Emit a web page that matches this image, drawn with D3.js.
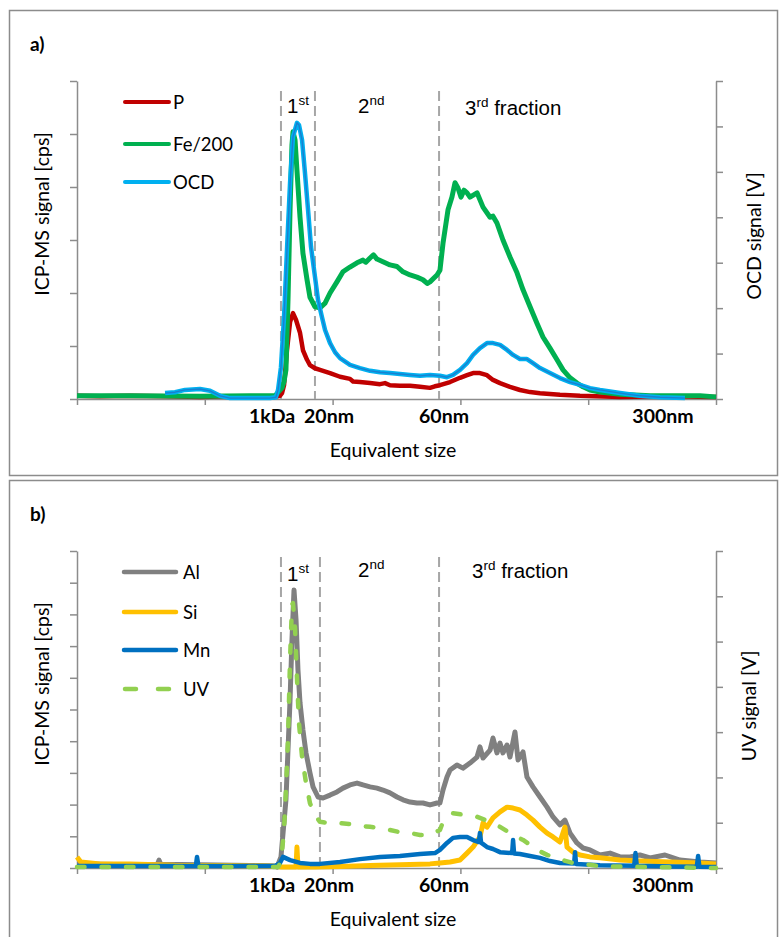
<!DOCTYPE html>
<html><head><meta charset="utf-8">
<script src="https://cdn.jsdelivr.net/npm/d3@7"></script>
<style>body{margin:0;background:#fff}svg{display:block}</style>
</head><body>
<script>
// ---------- DATA ----------
const xTicks = [0, 10, 20, 30, 40, 50];
const xTickLabels = ["1kDa", "20nm", "60nm", "300nm"];
const xTickLabelPos = [15.26, 19.72, 28.72, 45.85];
const fractionBoundsA = [15.96, 18.62, 28.33];
const fractionBoundsB = [15.96, 19.01, 28.33];
const leftTicksA = [0,1,2,3,4,5,6];
const rightTicksA = [0,1,2,3,4,5,6,7];
const leftTicksB = [0,1,2,3,4,5,6,7,8,9,10];
const rightTicksB = [0,1,2,3,4,5,6,7];
const seriesNamesA = ["P", "Fe/200", "OCD"];
const seriesNamesB = ["Al", "Si", "Mn", "UV"];

const pData = [[0,0.06],[1.8,0.05],[4.15,0.06],[6.89,0.05],[9.62,0.04],[11.97,0.05],[13.54,0.04],[15.49,0.04],[15.88,0.06],[16.04,0.11],[16.20,0.26],[16.43,0.92],[16.67,1.45],[16.90,1.62],[17.14,1.49],[17.45,1.25],[17.68,0.92],[18.00,0.74],[18.23,0.64],[18.62,0.58],[19.01,0.55],[19.80,0.49],[20.58,0.42],[21.36,0.38],[21.6,0.33],[22.14,0.32],[22.93,0.30],[23.71,0.28],[24.1,0.30],[24.49,0.26],[25.27,0.25],[26.06,0.25],[26.84,0.23],[27.62,0.21],[28.0,0.24],[28.40,0.26],[29.19,0.32],[29.97,0.40],[30.52,0.45],[30.99,0.49],[31.53,0.49],[32.08,0.45],[32.55,0.36],[33.10,0.30],[33.88,0.23],[34.66,0.17],[35.45,0.13],[36.23,0.11],[37.79,0.08],[39.36,0.06],[42.49,0.04],[46.0,0.05],[50,0.04]];

const feData = [[0,0.06],[4.15,0.06],[9.62,0.05],[13.54,0.06],[15.49,0.06],[16.04,0.21],[16.20,0.33],[16.35,0.55],[16.51,1.87],[16.67,3.57],[16.82,4.79],[16.90,5.04],[17.06,4.89],[17.21,4.32],[17.45,3.43],[17.68,2.75],[18.00,2.25],[18.23,1.92],[18.62,1.74],[19.01,1.72],[19.41,1.81],[19.80,2.00],[20.34,2.21],[20.81,2.40],[21.36,2.49],[21.91,2.57],[22.38,2.62],[22.6,2.58],[22.93,2.66],[23.2,2.72],[23.47,2.64],[23.94,2.59],[24.49,2.53],[25.04,2.50],[25.51,2.40],[26.06,2.34],[26.60,2.30],[27.07,2.25],[27.4,2.18],[27.62,2.21],[28.17,2.34],[28.40,2.43],[28.64,2.94],[29.03,3.57],[29.34,3.81],[29.58,4.08],[29.81,3.98],[30.05,3.81],[30.28,3.94],[30.52,3.89],[30.75,3.81],[31.30,3.89],[31.77,3.62],[32.32,3.43],[32.55,3.45],[32.86,3.32],[33.33,3.00],[33.88,2.68],[34.43,2.38],[34.90,2.06],[35.45,1.74],[35.99,1.43],[36.46,1.17],[37.01,0.96],[37.56,0.74],[38.03,0.55],[38.58,0.40],[39.12,0.30],[39.59,0.23],[40.14,0.17],[40.92,0.13],[42.49,0.09],[44.84,0.06],[48.75,0.06],[50,0.04]];

const ocdData = [[6.89,0.13],[7.67,0.15],[8.45,0.20],[9.62,0.22],[10.41,0.18],[11.19,0.07],[11.97,0.02],[13.54,0.02],[15.10,0.02],[15.57,0.04],[15.73,0.20],[15.96,0.70],[16.20,1.80],[16.43,3.28],[16.67,4.75],[16.90,5.77],[17.21,6.08],[17.37,6.03],[17.61,5.70],[17.84,4.97],[18.08,4.16],[18.31,3.35],[18.62,2.69],[18.86,2.18],[19.17,1.80],[19.41,1.52],[19.80,1.23],[20.19,1.03],[20.58,0.90],[21.36,0.75],[22.14,0.68],[22.93,0.62],[23.71,0.59],[24.49,0.57],[25.27,0.55],[26.06,0.53],[26.84,0.51],[27.62,0.53],[28.40,0.51],[28.95,0.48],[29.42,0.53],[29.97,0.64],[30.52,0.79],[30.99,0.97],[31.53,1.12],[32.08,1.23],[32.55,1.23],[33.10,1.19],[33.65,1.08],[34.12,0.97],[34.66,0.88],[35.21,0.88],[35.68,0.79],[36.23,0.68],[37.01,0.57],[37.79,0.46],[38.58,0.37],[39.36,0.31],[40.14,0.24],[40.92,0.20],[42.49,0.13],[44.05,0.07],[45.62,0.04],[47.57,0.02]];

const alData = [[0,0.15],[1.8,0.12],[4.15,0.10],[6.3,0.12],[6.42,0.25],[6.55,0.12],[9.62,0.10],[13.54,0.08],[15.49,0.06],[15.65,0.03],[15.96,0.35],[16.35,2.15],[16.67,5.30],[16.82,7.19],[16.98,8.77],[17.14,7.82],[17.29,6.25],[17.45,5.21],[17.68,4.35],[17.92,3.63],[18.23,3.00],[18.47,2.56],[18.86,2.24],[19.25,2.21],[19.80,2.30],[20.34,2.40],[20.81,2.52],[21.36,2.62],[21.91,2.68],[22.38,2.62],[22.93,2.56],[23.47,2.52],[23.94,2.46],[24.49,2.37],[25.04,2.24],[25.51,2.15],[26.06,2.08],[26.60,2.05],[27.07,2.05],[27.62,1.99],[28.17,2.05],[28.40,2.05],[28.64,2.46],[28.95,2.87],[29.19,3.09],[29.73,3.25],[30.20,3.15],[30.75,3.31],[31.30,3.50],[31.53,3.82],[31.77,3.47],[32.32,3.72],[32.55,4.10],[32.86,3.63],[33.10,3.94],[33.33,3.63],[33.65,3.88],[33.88,3.50],[34.27,4.29],[34.51,3.41],[34.90,3.66],[35.21,2.87],[35.68,2.56],[36.23,2.24],[36.78,1.92],[37.25,1.61],[37.79,1.36],[38.18,1.51],[38.58,1.10],[39.12,0.79],[39.59,0.63],[40.14,0.57],[40.92,0.41],[41.71,0.47],[42.49,0.35],[43.27,0.35],[44.05,0.41],[44.84,0.32],[46.01,0.41],[47.18,0.25],[48.75,0.19],[50,0.16]];

const siData = [[0,0.35],[0.3,0.19],[1.80,0.13],[4.15,0.13],[7.67,0.09],[11.97,0.08],[15.10,0.06],[16.04,0.03],[17.14,0.03],[17.21,0.66],[17.29,0.03],[18.62,0.03],[20.58,0.05],[22.93,0.08],[25.27,0.10],[27.62,0.13],[28.40,0.16],[29.19,0.19],[29.97,0.25],[30.52,0.47],[30.99,0.66],[31.53,0.98],[31.77,1.42],[32.08,1.29],[32.55,1.58],[33.10,1.77],[33.65,1.92],[34.12,1.89],[34.66,1.83],[35.21,1.67],[35.68,1.51],[36.23,1.29],[36.78,1.10],[37.25,0.98],[37.79,0.82],[38.18,1.29],[38.34,0.66],[38.81,0.50],[39.36,0.41],[40.14,0.35],[40.92,0.32],[42.49,0.25],[44.05,0.22],[46.40,0.19],[48.75,0.16],[50,0.13]];

const mnData = [[0,0.06],[9.3,0.06],[9.39,0.35],[9.5,0.06],[15.49,0.06],[15.88,0.16],[16.12,0.35],[16.67,0.25],[17.45,0.16],[18.23,0.13],[19.01,0.13],[20.58,0.19],[22.14,0.28],[23.71,0.35],[25.27,0.38],[26.84,0.44],[28.01,0.47],[28.40,0.57],[28.95,0.79],[29.42,0.95],[29.97,0.98],[30.52,0.98],[30.99,0.88],[31.45,0.82],[31.53,1.10],[31.62,0.80],[32.08,0.66],[32.55,0.60],[33.10,0.50],[34.05,0.47],[34.12,0.88],[34.2,0.46],[34.66,0.44],[35.45,0.38],[36.23,0.32],[37.01,0.22],[37.79,0.16],[38.90,0.14],[38.97,0.50],[39.05,0.13],[40.92,0.09],[43.6,0.07],[43.70,0.47],[43.8,0.07],[46.5,0.05],[48.5,0.04],[48.60,0.38],[48.7,0.04],[50,0.03]];

const uvData = [[0,0.02],[15.73,0.02],[15.96,0.13],[16.20,0.84],[16.35,1.72],[16.51,2.83],[16.59,3.71],[16.67,4.59],[16.82,5.81],[16.90,5.85],[17.06,5.30],[17.21,4.20],[17.37,3.20],[17.61,2.45],[17.92,1.88],[18.23,1.43],[18.62,1.17],[19.01,1.02],[19.80,0.99],[20.58,0.99],[21.36,0.97],[22.14,0.93],[22.93,0.91],[23.71,0.88],[24.49,0.84],[25.27,0.79],[26.06,0.77],[26.84,0.73],[27.62,0.73],[28.40,0.84],[28.64,1.02],[29.42,1.21],[30.36,1.17],[31.30,1.13],[32.32,1.02],[33.10,0.91],[34.12,0.73],[34.90,0.62],[35.99,0.40],[36.78,0.29],[37.95,0.18],[38.81,0.11],[40.14,0.07],[40.92,0.04],[44.84,0.02],[50,0]];

// ---------- DRAWING ----------
const W = 779, H = 937;
const FONT = "Lato, 'Open Sans', sans-serif";
const ARIAL = "'Liberation Sans', Arial, sans-serif";
const AXC = "#8c8c8c";
const svg = d3.select("body").append("svg").attr("width", W).attr("height", H);

// panel borders
svg.append("rect").attr("x",9.5).attr("y",10.5).attr("width",768).attr("height",465)
  .attr("fill","none").attr("stroke","#8c8c8c").attr("stroke-width",1.5);
svg.append("rect").attr("x",9.5).attr("y",480.5).attr("width",768).attr("height",470)
  .attr("fill","none").attr("stroke","#8c8c8c").attr("stroke-width",1.5);

const x = d3.scaleLinear().domain([0, 50]).range([77, 716]);

function panel(cfg) {
  const g = svg.append("g");
  const yL = d3.scaleLinear().domain([0, cfg.leftMax]).range([cfg.bottom, cfg.top]);
  const yR = d3.scaleLinear().domain([0, cfg.rightMax]).range([cfg.bottom, cfg.top]);

  const ax = g.append("g").attr("transform", `translate(0,${cfg.bottom})`)
    .call(d3.axisBottom(x).tickValues(xTicks).tickFormat("").tickSize(6).tickSizeOuter(0));
  const al = g.append("g").attr("transform", `translate(77,0)`)
    .call(d3.axisLeft(yL).tickValues(cfg.leftTicks).tickFormat("").tickSize(7).tickSizeOuter(0));
  const ar = g.append("g").attr("transform", `translate(716,0)`)
    .call(d3.axisRight(yR).tickValues(cfg.rightTicks).tickFormat("").tickSize(7).tickSizeOuter(0));
  [ax, al, ar].forEach(a => {
    a.selectAll("path,line").attr("stroke", AXC).attr("stroke-width", 1.5);
  });

  g.selectAll(".xl").data(xTickLabels).join("text")
    .attr("x", (d, i) => x(xTickLabelPos[i])).attr("y", cfg.bottom + 24)
    .attr("text-anchor", "middle").attr("font-family", FONT).attr("font-weight", "bold")
    .attr("font-size", 19.5).attr("fill", "#000").text(d => d);

  g.append("text").attr("x", 393).attr("y", cfg.bottom + 58).attr("text-anchor", "middle")
    .attr("font-family", FONT).attr("font-size", 19.5).text("Equivalent size");

  g.append("text").attr("transform", `translate(49,${cfg.leftTitleY}) rotate(-90)`)
    .attr("text-anchor", "middle").attr("font-family", FONT).attr("font-size", 19.5)
    .text("ICP-MS signal [cps]");
  g.append("text").attr("transform", `translate(${cfg.rightTitleX},${cfg.rightTitleY}) rotate(-90)`)
    .attr("text-anchor", "middle").attr("font-family", FONT).attr("font-size", 19.5)
    .text(cfg.rightTitle);

  g.append("text").attr("x", 30).attr("y", cfg.letterY).attr("font-family", FONT)
    .attr("font-weight", "bold").attr("font-size", 19).text(cfg.letter);

  g.selectAll(".fb").data(cfg.bounds).join("line")
    .attr("x1", d => x(d)).attr("x2", d => x(d))
    .attr("y1", cfg.dashTop).attr("y2", cfg.bottom)
    .attr("stroke", "#a6a6a6").attr("stroke-width", 2).attr("stroke-dasharray", "10,5");

  const fl = [
    {x: x(cfg.bounds[0]) + 6, n: "1", s: "st", rest: ""},
    {x: 358, n: "2", s: "nd", rest: ""},
    {x: x(cfg.bounds[2]) + cfg.thirdOff, n: "3", s: "rd", rest: " fraction"}
  ];
  fl.forEach((f, i) => {
    const t = g.append("text").attr("x", f.x).attr("y", cfg.fracY[i])
      .attr("font-family", ARIAL).attr("font-size", 20.5).attr("fill", "#000");
    t.append("tspan").text(f.n);
    t.append("tspan").attr("font-size", 13.5).attr("dy", -8).text(f.s);
    if (f.rest) t.append("tspan").attr("dy", 8).text(f.rest);
  });

  return {g, yL, yR};
}

// ---------- PANEL A ----------
const A = panel({top: 81, bottom: 399, leftMax: 6, rightMax: 7,
  leftTicks: leftTicksA, rightTicks: rightTicksA,
  leftTitleY: 214, rightTitleX: 761, rightTitleY: 236, rightTitle: "OCD signal [V]",
  letter: "a)", letterY: 51, bounds: fractionBoundsA, dashTop: 91,
  thirdOff: 26, fracY: [113, 113, 115]});

const lineA = (ys) => d3.line().x(d => x(d[0])).y(d => ys(d[1]));
A.g.append("path").datum(pData).attr("d", lineA(A.yL)).attr("fill", "none")
  .attr("stroke", "#c00000").attr("stroke-width", 4.5).attr("stroke-linejoin", "round");
A.g.append("path").datum(feData).attr("d", lineA(A.yL)).attr("fill", "none")
  .attr("stroke", "#00b050").attr("stroke-width", 5).attr("stroke-linejoin", "round");
A.g.append("path").datum(ocdData).attr("d", lineA(A.yR)).attr("fill", "none")
  .attr("stroke", "#00b0f0").attr("stroke-width", 4.5).attr("stroke-linejoin", "round");
A.g.append("path").datum(ocdData).attr("d", lineA(A.yR)).attr("fill", "none")
  .attr("stroke", "#1a7fcf").attr("stroke-width", 1.4).attr("stroke-linejoin", "round");

const legColorsA = ["#c00000", "#00b050", "#00b0f0"];
const legYA = [102, 144, 182];
seriesNamesA.forEach((n, i) => {
  A.g.append("line").attr("x1", 125).attr("x2", 169).attr("y1", legYA[i]).attr("y2", legYA[i])
    .attr("stroke", legColorsA[i]).attr("stroke-width", 4).attr("stroke-linecap", "round");
  A.g.append("text").attr("x", 173).attr("y", legYA[i] + 6.5).attr("font-family", FONT)
    .attr("font-size", 18.5).text(n);
});

// ---------- PANEL B ----------
const B = panel({top: 551, bottom: 868, leftMax: 10, rightMax: 7,
  leftTicks: leftTicksB, rightTicks: rightTicksB,
  leftTitleY: 684, rightTitleX: 756, rightTitleY: 706, rightTitle: "UV signal [V]",
  letter: "b)", letterY: 521, bounds: fractionBoundsB, dashTop: 557,
  thirdOff: 33, fracY: [581, 577, 578]});

B.g.append("path").datum(alData).attr("d", lineA(B.yL)).attr("fill", "none")
  .attr("stroke", "#808080").attr("stroke-width", 5).attr("stroke-linejoin", "round");
B.g.append("path").datum(siData).attr("d", lineA(B.yL)).attr("fill", "none")
  .attr("stroke", "#ffc000").attr("stroke-width", 5).attr("stroke-linejoin", "round");
B.g.append("path").datum(mnData).attr("d", lineA(B.yL)).attr("fill", "none")
  .attr("stroke", "#0070c0").attr("stroke-width", 4.5).attr("stroke-linejoin", "round");
B.g.append("path").datum(uvData).attr("d", lineA(B.yR)).attr("fill", "none")
  .attr("stroke", "#92d050").attr("stroke-width", 4.5).attr("stroke-linecap", "round")
  .attr("stroke-dasharray", "7.5,17").attr("stroke-linejoin", "round");

const legColorsB = ["#808080", "#ffc000", "#0070c0", "#92d050"];
const legYB = [572, 612, 650, 689];
seriesNamesB.forEach((n, i) => {
  const l = B.g.append("line").attr("x1", 124).attr("x2", 176).attr("y1", legYB[i]).attr("y2", legYB[i])
    .attr("stroke", legColorsB[i]).attr("stroke-width", 4.5).attr("stroke-linecap", "round");
  if (n === "UV") l.attr("stroke-dasharray", "11,22").attr("x1", 125);
  B.g.append("text").attr("x", 183).attr("y", legYB[i] + 6.5).attr("font-family", FONT)
    .attr("font-size", 18.5).text(n);
});
</script>
</body></html>
